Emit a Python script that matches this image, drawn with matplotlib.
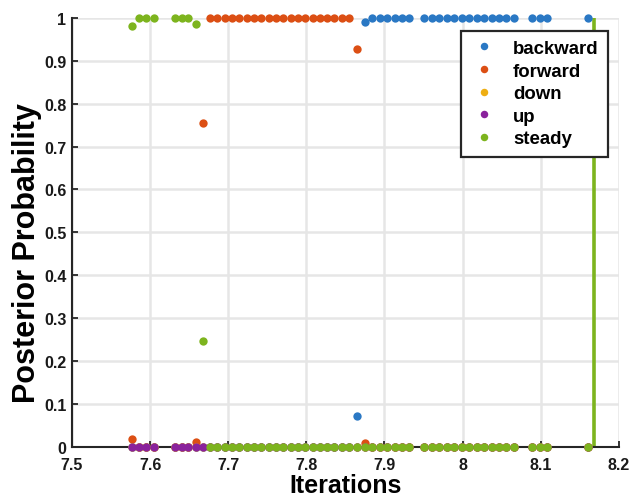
import matplotlib
matplotlib.use("Agg")
import matplotlib.pyplot as plt

plt.rcParams['font.family'] = ['Liberation Sans', 'DejaVu Sans']

# ---- data ----
iterations = [
    7.577, 7.586, 7.595, 7.605,
    7.632, 7.641, 7.649, 7.659, 7.668,
    7.677, 7.686, 7.696, 7.705, 7.714, 7.724, 7.733, 7.742, 7.752, 7.761,
    7.770, 7.780, 7.789, 7.798, 7.808, 7.817, 7.826, 7.836, 7.845, 7.855,
    7.865, 7.875,
    7.884, 7.894, 7.903, 7.913, 7.922, 7.932,
    7.951, 7.961, 7.970, 7.980, 7.989, 7.999, 8.008, 8.018, 8.027, 8.037,
    8.046, 8.056, 8.066,
    8.089, 8.099, 8.108,
    8.161,
]
backward = [0, 0, 0, 0,
            0, 0, 0, 0, 0,
            0, 0, 0, 0, 0, 0, 0, 0, 0, 0,
            0, 0, 0, 0, 0, 0, 0, 0, 0, 0,
            0.072, 0.99,
            1, 1, 1, 1, 1, 1,
            1, 1, 1, 1, 1, 1, 1, 1, 1, 1,
            1, 1, 1,
            1, 1, 1,
            1]
forward = [0.018, 0, 0, 0,
           0, 0, 0, 0.012, 0.755,
           1, 1, 1, 1, 1, 1, 1, 1, 1, 1,
           1, 1, 1, 1, 1, 1, 1, 1, 1, 1,
           0.928, 0.01,
           0, 0, 0, 0, 0, 0,
           0, 0, 0, 0, 0, 0, 0, 0, 0, 0,
           0, 0, 0,
           0, 0, 0,
           0]
down = [0] * 54
up = [0] * 54
steady = [0.982, 1, 1, 1,
          1, 1, 1, 0.985, 0.247,
          0, 0, 0, 0, 0, 0, 0, 0, 0, 0,
          0, 0, 0, 0, 0, 0, 0, 0, 0, 0,
          0, 0,
          0, 0, 0, 0, 0, 0,
          0, 0, 0, 0, 0, 0, 0, 0, 0, 0,
          0, 0, 0,
          0, 0, 0,
          0]
series_names = ['backward', 'forward', 'down', 'up', 'steady']
series_colors = ['#2a78c4', '#dc4f14', '#eeae12', '#8a229c', '#7db41e']
steady_line_x = 8.168
xticks = [7.5, 7.6, 7.7, 7.8, 7.9, 8.0, 8.1, 8.2]
xtick_labels = ['7.5', '7.6', '7.7', '7.8', '7.9', '8', '8.1', '8.2']
yticks = [0, 0.1, 0.2, 0.3, 0.4, 0.5, 0.6, 0.7, 0.8, 0.9, 1]
ytick_labels = ['0', '0.1', '0.2', '0.3', '0.4', '0.5', '0.6', '0.7', '0.8', '0.9', '1']

fig = plt.figure(figsize=(6.3, 5.02), dpi=100)
ax = fig.add_axes([0.1143, 0.1076, 0.868, 0.855])

all_series = [backward, forward, down, up, steady]
for name, col, vals in zip(series_names, series_colors, all_series):
    ax.plot(iterations, vals, linestyle='none', marker='o', markersize=6.0,
            markeredgewidth=0, color=col, label=name, clip_on=False, zorder=3)

ax.plot([steady_line_x, steady_line_x], [0, 1], color=series_colors[4],
        linewidth=2.6, zorder=2.5, solid_capstyle='butt')

ax.set_xlim(7.5, 8.2)
ax.set_ylim(0, 1)
ax.set_xticks(xticks)
ax.set_xticklabels(xtick_labels)
ax.set_yticks(yticks)
ax.set_yticklabels(ytick_labels)

ax.grid(True, color='#e6e6e6', linewidth=1.8, zorder=0)
ax.set_axisbelow(True)
for s in ['top', 'right']:
    ax.spines[s].set_visible(False)
for s in ['left', 'bottom']:
    ax.spines[s].set_color('#262626')
    ax.spines[s].set_linewidth(1.5)

ax.tick_params(direction='in', length=4, width=1.3, color='#262626',
               labelsize=11.5, labelcolor='#1a1a1a')
ax.tick_params(axis='x', pad=7)
ax.tick_params(axis='y', pad=4)
for lab in ax.get_xticklabels() + ax.get_yticklabels():
    lab.set_fontweight('bold')

ax.set_xlabel('Iterations', fontsize=18, fontweight='bold', labelpad=1)
ax.set_ylabel('Posterior Probability', fontsize=22, fontweight='bold')
ax.yaxis.set_label_coords(-0.055, 0.455)

leg = ax.legend(loc='upper right', bbox_to_anchor=(0.98, 0.97), borderaxespad=0,
                fancybox=False, framealpha=1, edgecolor='#262626',
                prop={'weight': 'bold', 'size': 13.4}, labelspacing=0.3,
                handlelength=1.5, handletextpad=0.8, borderpad=0.5, markerscale=0.9)
leg.get_frame().set_linewidth(1.6)

fig.savefig('out.png', dpi=100)
